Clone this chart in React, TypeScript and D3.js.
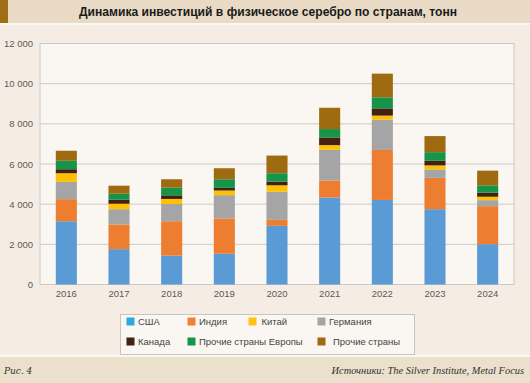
import React from "react";
import * as d3 from "d3";

const years = ["2016", "2017", "2018", "2019", "2020", "2021", "2022", "2023", "2024"];
const usa = [3150, 1760, 1440, 1530, 2920, 4330, 4210, 3750, 2010];
const india = [1100, 1230, 1710, 1760, 300, 850, 2490, 1560, 1890];
const germany = [860, 760, 860, 1160, 1400, 1530, 1510, 420, 300];
const china = [430, 270, 250, 230, 320, 230, 200, 200, 170];
const canada = [200, 200, 180, 130, 180, 380, 360, 230, 200];
const europe = [420, 300, 380, 430, 420, 420, 550, 430, 370];
const other = [500, 400, 420, 550, 880, 1060, 1180, 800, 730];
const yTicks = [0, 2000, 4000, 6000, 8000, 10000, 12000];

const seriesNames = ["США", "Индия", "Германия", "Китай", "Канада", "Прочие страны Европы", "Прочие страны"];
const seriesColors = ["#5b9bd5", "#ed7d31", "#a5a5a5", "#ffc000", "#43200f", "#169447", "#9e6b10"];
const seriesData = [usa, india, germany, china, canada, europe, other];

const legendItems = [
  { name: "США", color: "#29abe2" },
  { name: "Индия", color: "#f47e34" },
  { name: "Китай", color: "#ffc20e" },
  { name: "Германия", color: "#a5a5a5" },
  { name: "Канада", color: "#43200f" },
  { name: "Прочие страны Европы", color: "#169447" },
  { name: "Прочие страны", color: "#9e6b10" },
];

export default function App() {
  const W = 530, H = 383;
  const left = 40, right = 514, top = 43.5, bottom = 284.5;
  const x = d3.scaleBand().domain(years).range([left, right]).paddingInner(0.6).paddingOuter(0.3);
  const y = d3.scaleLinear().domain([0, 12000]).range([bottom, top]);

  const table = years.map((yr, i) => {
    const row: any = { year: yr };
    seriesNames.forEach((n, k) => (row[n] = seriesData[k][i]));
    return row;
  });
  const stacked = d3.stack().keys(seriesNames)(table);

  const fmt = (v: number) => d3.format(",")(v).replace(",", " ");
  const sans = "Arial, 'Liberation Sans', Helvetica, sans-serif";
  const legendPos = [
    { sx: 126.5, tx: 138, y: 325 },
    { sx: 187.5, tx: 199, y: 325 },
    { sx: 248.5, tx: 261.5, y: 325 },
    { sx: 317.5, tx: 329, y: 325 },
    { sx: 126.5, tx: 138, y: 345 },
    { sx: 187.5, tx: 199, y: 345 },
    { sx: 317.5, tx: 333, y: 345 },
  ];

  return (
    <svg width={W} height={H} style={{ position: "absolute", left: 0, top: 0, display: "block" }}>
      <rect x={0} y={0} width={W} height={H} fill="#f5ede3" />
      {/* title band */}
      <rect x={0} y={0} width={W} height={23} fill="#e8dac4" />
      <rect x={0} y={0} width={8} height={23} fill="#a36d16" />
      <rect x={0} y={23} width={W} height={2} fill="#fbf7f1" />
      <text x={268} y={16} textAnchor="middle" fontFamily={sans} fontWeight="bold" fontSize={12.1} fill="#1a1a1a">
        Динамика инвестиций в физическое серебро по странам, тонн
      </text>
      {/* plot area */}
      <rect x={left} y={top} width={right - left} height={bottom - top} fill="#faf7f2" />
      {yTicks.map((t) => (
        <g key={t}>
          <line x1={left} x2={right} y1={y(t)} y2={y(t)} stroke="#cdc8c2" strokeWidth={1} />
          <text x={33} y={y(t) + 3.5} textAnchor="end" fontFamily={sans} fontSize={9.5} fill="#5a5a5a">
            {fmt(t)}
          </text>
        </g>
      ))}
      <line x1={left} x2={left} y1={top} y2={bottom} stroke="#cdc8c2" />
      <line x1={right} x2={right} y1={top} y2={bottom} stroke="#cdc8c2" />
      {stacked.map((s, k) => (
        <g key={s.key}>
          {s.map((d, i) => (
            <rect
              key={i}
              x={x(years[i])!}
              y={y(d[1])}
              width={x.bandwidth()}
              height={y(d[0]) - y(d[1])}
              fill={seriesColors[k]}
            />
          ))}
        </g>
      ))}
      {years.map((yr) => (
        <text key={yr} x={x(yr)! + x.bandwidth() / 2} y={297} textAnchor="middle" fontFamily={sans} fontSize={9.5} fill="#5a5a5a">
          {yr}
        </text>
      ))}
      {/* legend */}
      <rect x={120.5} y={314.5} width={294} height={40} fill="#faf7f2" stroke="#c9c4be" />
      {legendItems.map((it, i) => (
        <g key={it.name}>
          <rect x={legendPos[i].sx} y={legendPos[i].y - 7.5} width={8} height={8} fill={it.color} />
          <text x={legendPos[i].tx} y={legendPos[i].y} fontFamily={sans} fontSize={9.5} fill="#444">
            {it.name}
          </text>
        </g>
      ))}
      {/* footer */}
      <rect x={0} y={355} width={W} height={2} fill="#fbf7f1" />
      <rect x={0} y={357} width={W} height={26} fill="#ebe0cc" />
      <text x={4} y={374} fontFamily="'DejaVu Serif', 'Liberation Serif', serif" fontStyle="italic" fontSize={9} fill="#333">
        Рис. 4
      </text>
      <text x={524} y={374} textAnchor="end" fontFamily="'Liberation Serif', 'DejaVu Serif', serif" fontStyle="italic" fontSize={10.4} fill="#333">
        Источники: The Silver Institute, Metal Focus
      </text>
    </svg>
  );
}
